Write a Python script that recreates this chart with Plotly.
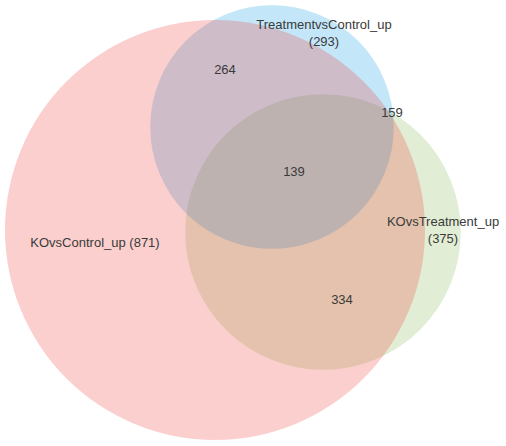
import numpy as np
import plotly.graph_objects as go

# set sizes and region counts
set_names = ["KOvsControl_up", "TreatmentvsControl_up", "KOvsTreatment_up"]
set_sizes = [871, 293, 375]
region_counts = [264, 159, 139, 334]

# layout only: circle centres (pixel space) and colours, drawn bottom -> top
centres = {"KOvsControl_up": (215, 230), "TreatmentvsControl_up": (272, 127), "KOvsTreatment_up": (323, 232)}
colours = {"KOvsControl_up": "rgba(239,63,55,0.25)",
           "TreatmentvsControl_up": "rgba(15,155,227,0.25)",
           "KOvsTreatment_up": "rgba(135,187,87,0.25)"}
draw_order = ["KOvsTreatment_up", "TreatmentvsControl_up", "KOvsControl_up"]
set_label_pos = [(95, 244), (324, 34), (443, 231)]
region_label_pos = [(225, 71), (392, 114), (294, 173), (342, 301)]

# area proportional radii, biggest set gets 210 px
scale = 210 / np.sqrt(max(set_sizes))
radius = {n: scale * np.sqrt(s) for n, s in zip(set_names, set_sizes)}

fig = go.Figure()

for name in draw_order:
    cx, cy = centres[name]
    r = radius[name]
    fig.add_shape(type="circle", xref="x", yref="y",
                  x0=cx - r, x1=cx + r, y0=cy - r, y1=cy + r,
                  fillcolor=colours[name], line=dict(width=0), layer="below")

set_text = []
for name, size in zip(set_names, set_sizes):
    if name == "KOvsControl_up":
        set_text.append(f"{name} ({size})")
    else:
        set_text.append(f"{name}<br>({size})")

fig.add_trace(go.Scatter(
    x=[p[0] for p in set_label_pos], y=[p[1] for p in set_label_pos],
    mode="text", text=set_text, textposition="middle center",
    textfont=dict(family="Liberation Sans, Arial", size=13, color="#3a3a3a"),
    hoverinfo="skip"))

fig.add_trace(go.Scatter(
    x=[p[0] for p in region_label_pos], y=[p[1] for p in region_label_pos],
    mode="text", text=[str(c) for c in region_counts], textposition="middle center",
    textfont=dict(family="Liberation Sans, Arial", size=13, color="#3a3a3a"),
    hoverinfo="skip"))

fig.update_layout(
    width=506, height=446,
    margin=dict(l=0, r=0, t=0, b=0),
    showlegend=False,
    plot_bgcolor="white", paper_bgcolor="white",
    xaxis=dict(range=[0, 506], visible=False, fixedrange=True),
    yaxis=dict(range=[446, 0], visible=False, fixedrange=True),
)

# page body has an 8px default margin, drop it so the chart sits at 0,0
fig.write_html("out.html", config={"displayModeBar": False},
               post_script="document.body.style.margin='0';document.body.style.overflow='hidden';")
